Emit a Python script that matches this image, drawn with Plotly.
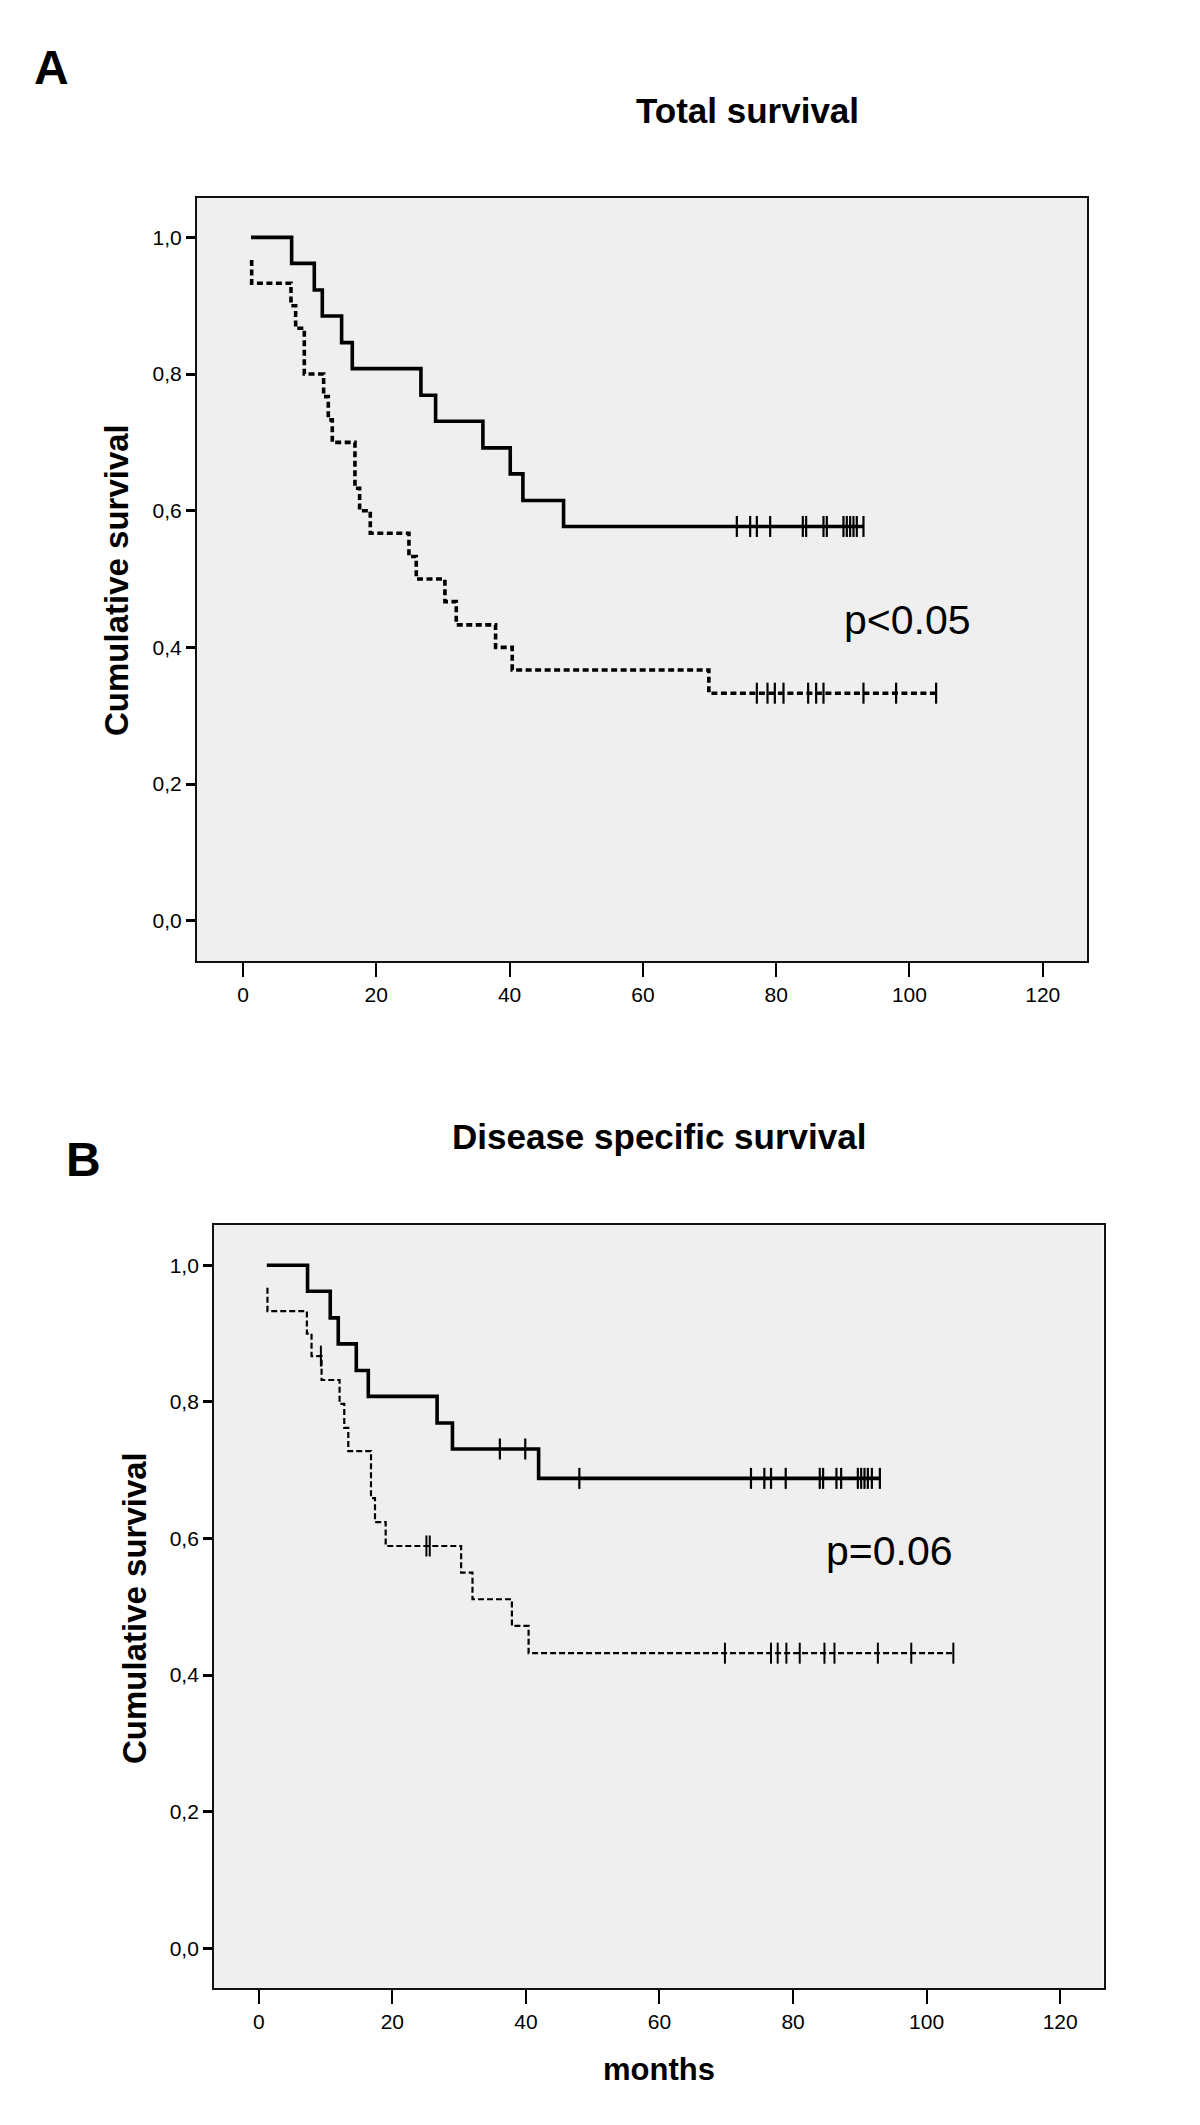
import numpy as np
import plotly.graph_objects as go

# ---------------- data ----------------
# Panel A: Total survival
a_solid_t = [1.2, 7.3, 10.7, 11.9, 14.8, 16.4, 26.7, 28.9, 36.0, 40.1, 42.0, 48.1]
a_solid_s = [1.000, 0.962, 0.923, 0.885, 0.846, 0.808, 0.769, 0.731, 0.692, 0.654, 0.615, 0.577]
a_solid_cens = [74.1, 76.1, 77.1, 79.1, 84.0, 84.5, 87.1, 87.6, 90.1, 90.6, 91.1, 91.6, 92.1, 93.1]

a_dash_t = [1.3, 1.3, 7.2, 7.9, 9.2, 12.1, 12.8, 13.4, 16.8, 17.5, 19.1, 24.9, 26.0, 30.3, 32.0, 37.9, 40.4, 69.9]
a_dash_s = [0.967, 0.933, 0.900, 0.867, 0.800, 0.767, 0.733, 0.700, 0.633, 0.600, 0.567, 0.533, 0.500, 0.467, 0.433, 0.400, 0.367, 0.333]
a_dash_cens = [77.1, 78.7, 79.8, 81.1, 84.8, 86.0, 87.1, 93.1, 98.0, 104.0]

# Panel B: Disease specific survival
b_solid_t = [1.2, 7.3, 10.7, 11.9, 14.6, 16.4, 26.7, 29.0, 41.9]
b_solid_s = [1.000, 0.962, 0.923, 0.885, 0.846, 0.808, 0.769, 0.731, 0.688]
b_solid_cens = [36.1, 39.9, 48.0, 73.7, 75.7, 76.7, 78.9, 84.0, 84.5, 86.5, 87.2,
                89.7, 90.2, 90.7, 91.2, 91.8, 93.0]

b_dash_t = [1.3, 1.3, 7.2, 7.9, 9.4, 12.1, 12.8, 13.4, 16.8, 17.4, 19.0, 30.3, 32.0, 37.9, 40.4]
b_dash_s = [0.967, 0.933, 0.900, 0.867, 0.832, 0.797, 0.762, 0.728, 0.659, 0.624, 0.589, 0.550, 0.511, 0.472, 0.432]
b_dash_cens = [9.3, 25.1, 25.6, 69.8, 76.7, 77.7, 79.0, 81.0, 84.7, 86.2, 92.7, 97.7, 104.0]

x_ticks = [0, 20, 40, 60, 80, 100, 120]
y_ticks = [0.0, 0.2, 0.4, 0.6, 0.8, 1.0]
y_tick_text = ["0,0", "0,2", "0,4", "0,6", "0,8", "1,0"]

titles = ["Total survival", "Disease specific survival"]
panel_letters = ["A", "B"]
p_texts = ["p<0.05", "p=0.06"]
y_title = "Cumulative survival"
x_title = "months"

# ---------------- helpers ----------------
FONT = "Liberation Sans, Arial, sans-serif"


def step_line(t, s, cens):
    end = max(max(cens), t[-1])
    return list(t) + [end], list(s) + [s[-1]]


def surv_at(t, s, times):
    t = np.asarray(t)
    s = np.asarray(s)
    idx = np.searchsorted(t, np.asarray(times), side="right") - 1
    idx = np.clip(idx, 0, len(s) - 1)
    return s[idx]


fig = go.Figure()

panels = [
    dict(xa="x", ya="y",
         solid=(a_solid_t, a_solid_s, a_solid_cens),
         dash=(a_dash_t, a_dash_s, a_dash_cens),
         dash_style=dict(width=3.6, dash="6px,3.5px"),
         dash_mark=dict(width=2.2, size=15)),
    dict(xa="x2", ya="y2",
         solid=(b_solid_t, b_solid_s, b_solid_cens),
         dash=(b_dash_t, b_dash_s, b_dash_cens),
         dash_style=dict(width=2.2, dash="6px,3px"),
         dash_mark=dict(width=2, size=15)),
]

for p in panels:
    t, s, c = p["solid"]
    lx, ly = step_line(t, s, c)
    fig.add_trace(go.Scatter(x=lx, y=ly, mode="lines", line_shape="hv",
                             line=dict(color="black", width=3.6),
                             xaxis=p["xa"], yaxis=p["ya"], showlegend=False,
                             hoverinfo="skip"))
    fig.add_trace(go.Scatter(x=c, y=surv_at(t, s, c), mode="markers",
                             marker=dict(symbol="line-ns", size=15,
                                         line=dict(color="black", width=2.2)),
                             xaxis=p["xa"], yaxis=p["ya"], showlegend=False))
    t, s, c = p["dash"]
    lx, ly = step_line(t, s, c)
    fig.add_trace(go.Scatter(x=lx, y=ly, mode="lines", line_shape="hv",
                             line=dict(color="black", **p["dash_style"]),
                             xaxis=p["xa"], yaxis=p["ya"], showlegend=False,
                             hoverinfo="skip"))
    fig.add_trace(go.Scatter(x=c, y=surv_at(t, s, c), mode="markers",
                             marker=dict(symbol="line-ns", size=p["dash_mark"]["size"],
                                         line=dict(color="black", width=p["dash_mark"]["width"])),
                             xaxis=p["xa"], yaxis=p["ya"], showlegend=False))

axis_common = dict(showgrid=False, zeroline=False, showline=True, linecolor="#111111",
                   linewidth=2, mirror=True, ticks="outside", tickcolor="black",
                   tickfont=dict(family=FONT, size=21, color="black"))

xcommon = dict(axis_common, tickvals=x_ticks, ticklen=14, tickwidth=1.6)
ycommon = dict(axis_common, tickvals=y_ticks, ticktext=y_tick_text, ticklen=9, tickwidth=2.5)

fig.update_layout(
    width=1200, height=2125,
    margin=dict(l=0, r=0, t=0, b=0),
    paper_bgcolor="white",
    plot_bgcolor="#EFEFEF",
    xaxis=dict(xcommon, domain=[0.1575, 0.8995], range=[-6.9, 126.7], anchor="y"),
    yaxis=dict(ycommon, domain=[0.5515, 0.9107], range=[-0.059, 1.058], anchor="x"),
    xaxis2=dict(xcommon, domain=[0.1717, 0.913], range=[-6.7, 126.5], anchor="y2"),
    yaxis2=dict(ycommon, domain=[0.0683, 0.4273], range=[-0.058, 1.059], anchor="x2"),
)

ann = []
# panel letters
ann.append(dict(text="<b>%s</b>" % panel_letters[0], x=43 / 1200, y=1 - 60 / 2125,
                font=dict(family=FONT, size=48, color="black")))
ann.append(dict(text="<b>%s</b>" % panel_letters[1], x=75 / 1200, y=1 - 1151 / 2125,
                font=dict(family=FONT, size=48, color="black")))
# titles
ann.append(dict(text="<b>%s</b>" % titles[0], x=739 / 1200, y=1 - 102 / 2125,
                font=dict(family=FONT, size=35, color="black")))
ann.append(dict(text="<b>%s</b>" % titles[1], x=651 / 1200, y=1 - 1128 / 2125,
                font=dict(family=FONT, size=35, color="black")))
# y titles
ann.append(dict(text="<b>%s</b>" % y_title, x=108 / 1200, y=1 - 572 / 2125, textangle=-90,
                font=dict(family=FONT, size=33, color="black")))
ann.append(dict(text="<b>%s</b>" % y_title, x=126 / 1200, y=1 - 1600 / 2125, textangle=-90,
                font=dict(family=FONT, size=33, color="black")))
# x title
ann.append(dict(text="<b>%s</b>" % x_title, x=651 / 1200, y=1 - 2061 / 2125,
                font=dict(family=FONT, size=31, color="black")))
for a in ann:
    a.update(xref="paper", yref="paper", showarrow=False, xanchor="center", yanchor="middle")

# p-values in data coordinates
ann.append(dict(text=p_texts[0], x=99.7, y=0.44, xref="x", yref="y", showarrow=False,
                xanchor="center", yanchor="middle",
                font=dict(family=FONT, size=41, color="black")))
ann.append(dict(text=p_texts[1], x=94.4, y=0.582, xref="x2", yref="y2", showarrow=False,
                xanchor="center", yanchor="middle",
                font=dict(family=FONT, size=41, color="black")))

fig.update_layout(annotations=ann)
fig.write_html("out.html")
